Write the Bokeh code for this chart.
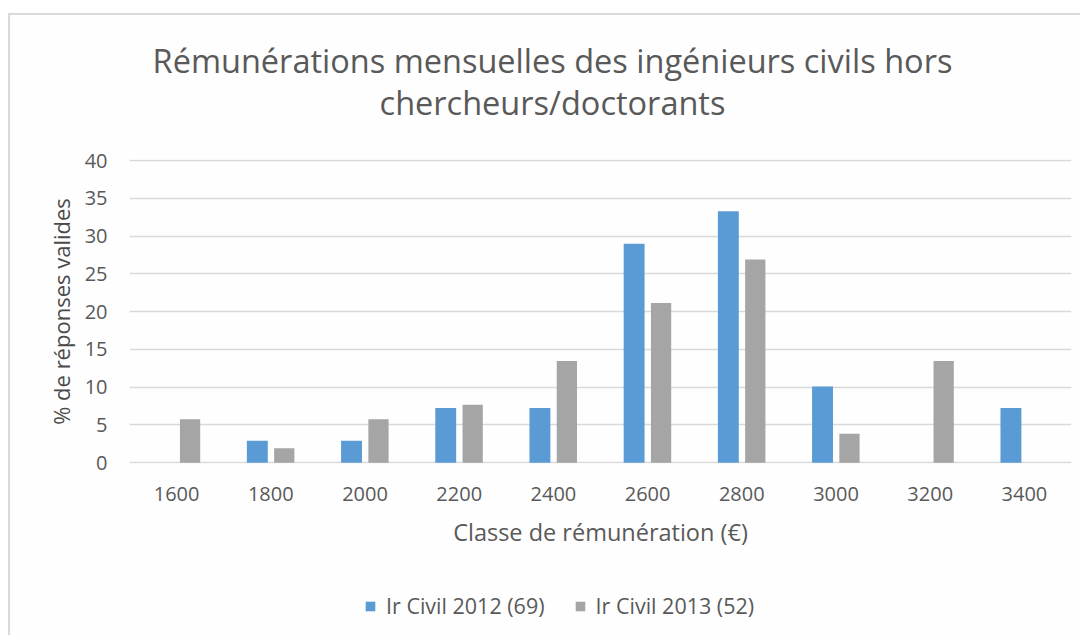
from bokeh.plotting import figure
from bokeh.layouts import column
from bokeh.models import (ColumnDataSource, Range1d, FixedTicker, Legend, LegendItem, Label)
from bokeh.transform import dodge
from bokeh.embed import file_html
from bokeh.resources import INLINE

# ---- data ----
classes = ["1600", "1800", "2000", "2200", "2400", "2600", "2800", "3000", "3200", "3400"]
civil_2012 = [0.0, 2.9, 2.9, 7.25, 7.25, 29.0, 33.3, 10.1, 0.0, 7.25]
civil_2013 = [5.77, 1.92, 5.77, 7.69, 13.46, 21.15, 26.92, 3.85, 13.46, 0.0]
y_ticks = [0, 5, 10, 15, 20, 25, 30, 35, 40]
series_names = ["Ir Civil 2012 (69)", "Ir Civil 2013 (52)"]
title_lines = ["Rémunérations mensuelles des ingénieurs civils hors", "chercheurs/doctorants"]
x_label = "Classe de rémunération (€)"
y_label = "% de réponses valides"

FONT = "Open Sans"
TXT = "#595959"
BLUE = "#5b9bd5"
GRAY = "#a5a5a5"
BG = "#fefefe"

src = ColumnDataSource(dict(cls=classes, a=civil_2012, b=civil_2013))

W, HT, H1, H2 = 1070, 120, 440, 60
ML, MR, MT, MB = 119, 9, 24, 112


def strip(height):
    f = figure(x_range=classes, y_range=Range1d(1000, 1001), width=W, height=height,
               output_backend="svg", toolbar_location=None,
               min_border_left=0, min_border_right=0, min_border_top=0, min_border_bottom=0)
    f.axis.visible = False
    f.grid.visible = False
    f.background_fill_color = BG
    f.border_fill_color = BG
    f.outline_line_color = None
    return f


# ---- title strip ----
t = strip(HT)
for line, yy in zip(title_lines, [75, 33]):
    t.add_layout(Label(x=423, y=yy, x_units="screen", y_units="screen", text=line,
                       text_align="center", text_baseline="middle",
                       text_font=FONT, text_font_size="32.5px", text_color=TXT))

# ---- main chart ----
p = figure(x_range=classes, y_range=Range1d(-0.1, 40.15), width=W, height=H1,
           output_backend="svg", toolbar_location=None,
           min_border_left=ML, min_border_right=MR, min_border_top=MT, min_border_bottom=MB)
p.background_fill_color = BG
p.border_fill_color = BG
p.outline_line_color = None

bar_kw = dict(source=src, line_color=None)
r1 = p.vbar(x=dodge("cls", -0.143, range=p.x_range), top="a", width=0.222, fill_color=BLUE, **bar_kw)
r2 = p.vbar(x=dodge("cls", 0.143, range=p.x_range), top="b", width=0.215, fill_color=GRAY, **bar_kw)

p.xgrid.grid_line_color = None
p.ygrid.grid_line_color = "#d9d9d9"
p.ygrid.grid_line_width = 1.5
p.yaxis.ticker = FixedTicker(ticks=y_ticks)

for ax in (p.xaxis[0], p.yaxis[0]):
    ax.axis_line_color = None
    ax.major_tick_line_color = None
    ax.minor_tick_line_color = None
    ax.major_label_text_font = FONT
    ax.major_label_text_font_size = "20px"
    ax.major_label_text_color = TXT
    ax.axis_label_text_font = FONT
    ax.axis_label_text_font_style = "normal"
    ax.axis_label_text_color = TXT

p.yaxis.major_label_standoff = 16
p.yaxis.axis_label = y_label
p.yaxis.axis_label_text_font_size = "22px"
p.yaxis.axis_label_text_color = "#4a4a4a"
p.yaxis.axis_label_standoff = 6

p.xaxis.major_label_standoff = 17
p.xaxis.axis_label = x_label
p.xaxis.axis_label_text_font_size = "23.5px"
p.xaxis.axis_label_standoff = 12

# ---- legend strip ----
q = strip(H2)
l1 = q.vbar(x=dodge("cls", -0.143, range=q.x_range), top="a", width=0.222, fill_color=BLUE, **bar_kw)
l2 = q.vbar(x=dodge("cls", 0.143, range=q.x_range), top="b", width=0.215, fill_color=GRAY, **bar_kw)
legend = Legend(items=[LegendItem(label=series_names[0], renderers=[l1]),
                       LegendItem(label=series_names[1], renderers=[l2])],
                orientation="horizontal", location=(235, 15),
                padding=0, margin=0, spacing=29, label_standoff=10,
                glyph_width=12, glyph_height=12,
                label_text_font=FONT, label_text_font_size="21.5px", label_text_color=TXT,
                border_line_color=None, background_fill_alpha=0)
q.add_layout(legend, "center")

layout = column(t, p, q, spacing=0)
layout.margin = (13, 0, 0, 8)
layout.styles = {"border-top": "2px solid #d9d9d9", "border-left": "2px solid #d9d9d9",
                 "background-color": BG}

open("out.html", "w").write(file_html(layout, INLINE))
